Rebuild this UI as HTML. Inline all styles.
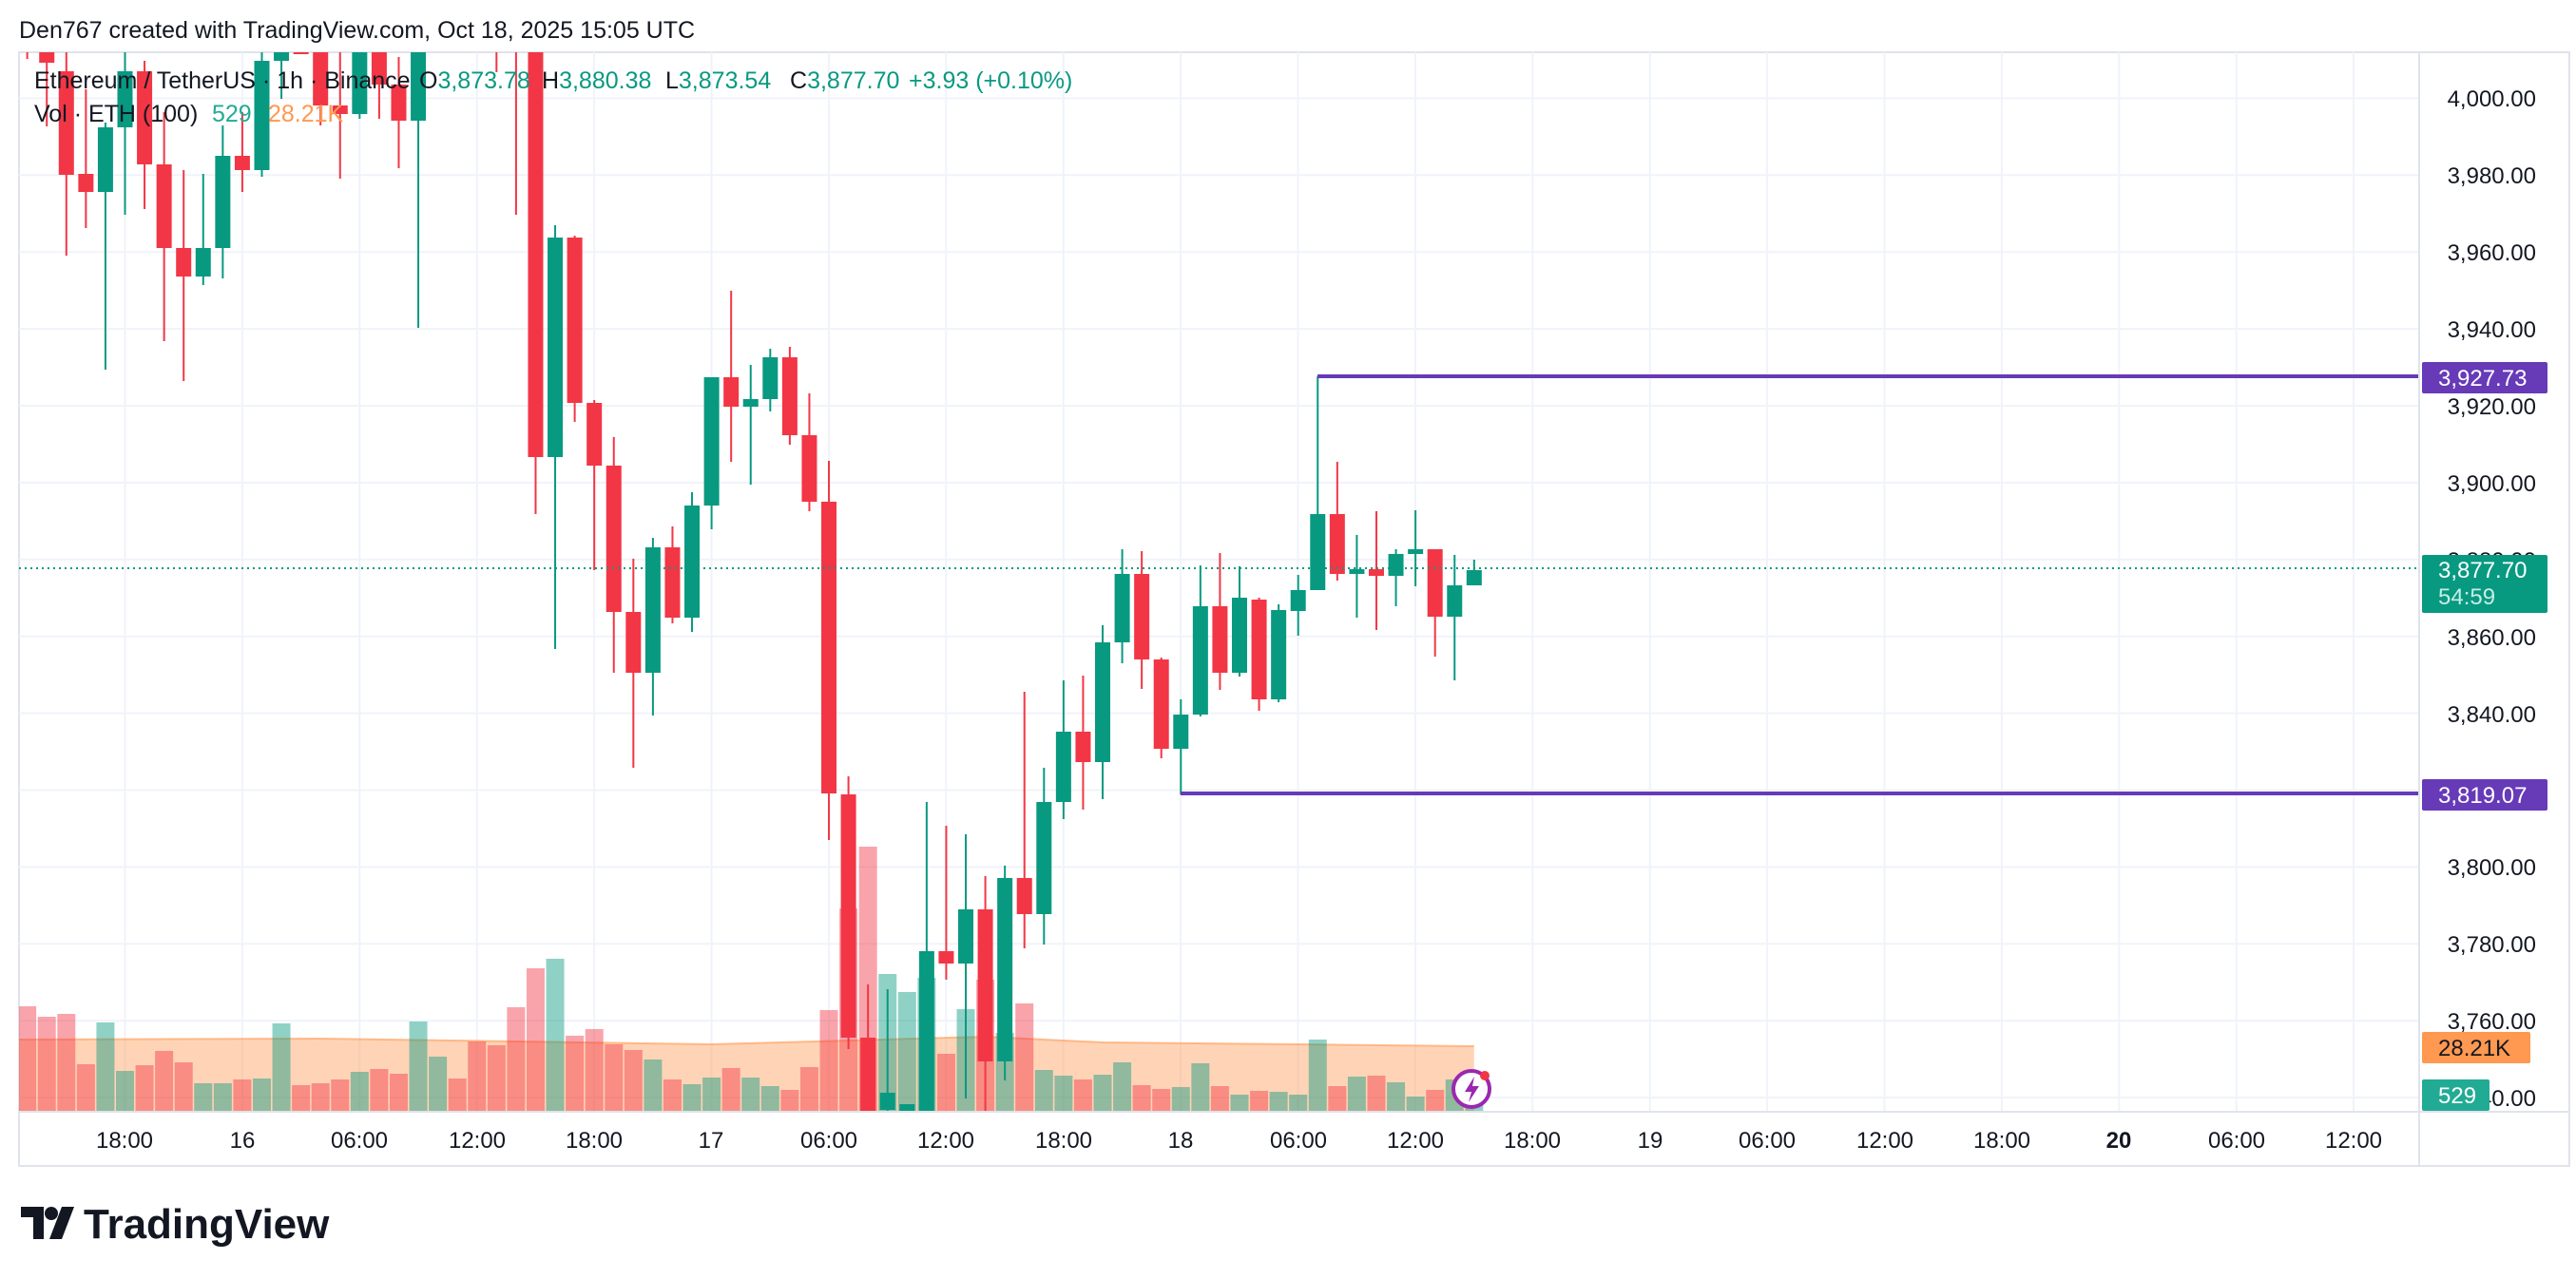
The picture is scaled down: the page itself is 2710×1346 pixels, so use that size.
<!DOCTYPE html>
<html><head><meta charset="utf-8"><style>
html,body{margin:0;padding:0;background:#fff;width:2710px;height:1346px;overflow:hidden}
svg{display:block;font-family:"Liberation Sans",sans-serif}
</style></head><body>
<svg id="s" width="2710" height="1346" viewBox="0 0 2710 1346" xmlns="http://www.w3.org/2000/svg">
<defs><clipPath id="c"><rect x="20" y="55" width="2525" height="1115"/></clipPath></defs>
<rect x="20" y="55" width="2683" height="1172" fill="#fff" stroke="#e0e3eb" stroke-width="2"/>
<g id="grid" stroke="#f0f3fa" stroke-width="2"></g>
<g id="vol" clip-path="url(#c)"></g>
<g id="cdl" clip-path="url(#c)"></g>
<line x1="20" y1="598" x2="2545" y2="598" stroke="#089981" stroke-width="2" stroke-dasharray="2,4"/>
<polyline points="1386,396 2545,396" stroke="#673ab7" stroke-width="4" fill="none"/>
<polyline points="1242,835 2545,835" stroke="#673ab7" stroke-width="4" fill="none"/>
<line x1="2545" y1="55" x2="2545" y2="1227" stroke="#e0e3eb" stroke-width="2"/>
<line x1="20" y1="1170" x2="2703" y2="1170" stroke="#e0e3eb" stroke-width="2"/>
<text x="20" y="40" font-size="25" fill="#131722">Den767 created with TradingView.com, Oct 18, 2025 15:05 UTC</text>
<g font-size="25">
<text x="36" y="93" fill="#131722">Ethereum / TetherUS · 1h · Binance</text>
<text x="441" y="93" fill="#131722">O<tspan fill="#089981">3,873.78</tspan></text>
<text x="570" y="93" fill="#131722">H<tspan fill="#089981">3,880.38</tspan></text>
<text x="700" y="93" fill="#131722">L<tspan fill="#089981">3,873.54</tspan></text>
<text x="831" y="93" fill="#131722">C<tspan fill="#089981">3,877.70</tspan></text>
<text x="956" y="93" fill="#089981">+3.93 (+0.10%)</text>
<text x="36" y="128" fill="#131722">Vol · ETH (100)</text>
<text x="223" y="128" fill="#22ab94">529</text>
<text x="282" y="128" fill="#ff9850">28.21K</text>
</g>
<g font-size="24" fill="#131722" text-anchor="end">
<text x="2668" y="112">4,000.00</text><text x="2668" y="193">3,980.00</text><text x="2668" y="274">3,960.00</text>
<text x="2668" y="355">3,940.00</text><text x="2668" y="436">3,920.00</text><text x="2668" y="517">3,900.00</text>
<text x="2668" y="598">3,880.00</text><text x="2668" y="679">3,860.00</text><text x="2668" y="760">3,840.00</text>
<text x="2668" y="921">3,800.00</text><text x="2668" y="1002">3,780.00</text><text x="2668" y="1083">3,760.00</text><text x="2668" y="1164">3,740.00</text>
</g>
<g font-size="24" fill="#fff">
<rect x="2548" y="381" width="132" height="33" rx="2" fill="#673ab7"/><text x="2565" y="406">3,927.73</text>
<rect x="2548" y="584" width="132" height="61" rx="2" fill="#089981"/><text x="2565" y="608">3,877.70</text><text x="2565" y="636" fill="#c8ece6">54:59</text>
<rect x="2548" y="820" width="132" height="33" rx="2" fill="#673ab7"/><text x="2565" y="845">3,819.07</text>
<rect x="2548" y="1086" width="114" height="33" rx="2" fill="#ff9850"/><text x="2565" y="1111" fill="#131722">28.21K</text>
<rect x="2548" y="1136" width="71" height="33" rx="2" fill="#22ab94"/><text x="2565" y="1161">529</text>
</g>
<g font-size="24" fill="#131722" text-anchor="middle" id="tl">
<text x="131" y="1208">18:00</text><text x="255" y="1208">16</text><text x="378" y="1208">06:00</text><text x="502" y="1208">12:00</text><text x="625" y="1208">18:00</text><text x="748" y="1208">17</text><text x="872" y="1208">06:00</text><text x="995" y="1208">12:00</text><text x="1119" y="1208">18:00</text><text x="1242" y="1208">18</text><text x="1366" y="1208">06:00</text><text x="1489" y="1208">12:00</text><text x="1612" y="1208">18:00</text><text x="1736" y="1208">19</text><text x="1859" y="1208">06:00</text><text x="1983" y="1208">12:00</text><text x="2106" y="1208">18:00</text><text x="2229" y="1208" font-weight="bold">20</text><text x="2353" y="1208">06:00</text><text x="2476" y="1208">12:00</text>
</g>
<circle cx="1548" cy="1146" r="19" fill="#fff" stroke="#9c27b0" stroke-width="4"/>
<path d="M1551 1133 L1541 1149 L1548 1149 L1545 1160 L1556 1143 L1549 1143 Z" fill="#9c27b0"/>
<circle cx="1562" cy="1132" r="5" fill="#f23645"/>
<g transform="translate(22,1266)">
<path d="M0 4 H24 V38 H13 V15 H0 Z" fill="#131722"/><circle cx="32" cy="11" r="7" fill="#131722"/><path d="M43 4 H56 L43 38 H30 Z" fill="#131722"/>
<text x="66" y="37" font-size="44" font-weight="bold" fill="#131722">TradingView</text>
</g>
</svg>
<script>
var NS="http://www.w3.org/2000/svg";
function el(p,t,a){var e=document.createElementNS(NS,t);for(var k in a)e.setAttribute(k,a[k]);p.appendChild(e);return e;}
var g=document.getElementById('grid');
for(var p=4000;p>=3740;p-=20){var y=427+(3920-p)*4.045;el(g,'line',{x1:20,y1:y,x2:2545,y2:y});}
for(var k=0;k<20;k++){var x=131.5+k*123.4;el(g,'line',{x1:x,y1:55,x2:x,y2:1170});}
var C=[[-5,0,30,50,30,62],[-4,0,40,66,40,133],[-3,0,75,184,55,269],[-2,0,183,202,94,240],[-1,1,134,202,129,389],[0,1,75,134,50,226],[1,0,75,173,64,220],[2,0,173,261,118,359],[3,0,261,291,179,401],[4,1,261,291,183,300],[5,1,164,261,132,293],[6,0,164,179,118,202],[7,1,64,179,50,186],[8,1,40,64,40,104],[9,0,40,57,40,56],[10,0,40,111,40,132],[11,0,111,120,55,188],[12,1,40,120,40,125],[13,0,40,89,40,125],[14,0,89,127,60,177],[15,1,40,127,40,345],[16,1,10,30,5,40],[17,0,10,30,5,40],[18,0,10,30,5,40],[19,0,20,45,10,76],[20,0,20,50,10,226],[21,0,40,481,40,541],[22,1,250,481,237,683],[23,0,250,424,248,444],[24,0,424,490,421,600],[25,0,490,644,460,708],[26,0,644,708,588,808],[27,1,576,708,566,753],[28,0,576,650,554,656],[29,1,532,650,518,665],[30,1,397,532,397,557],[31,0,397,428,306,486],[32,1,420,428,384,510],[33,1,376,420,367,433],[34,0,376,458,365,468],[35,0,458,528,414,538],[36,0,528,835,485,884],[37,0,836,1092,817,1104],[38,0,1092,1169,1036,1175],[39,1,1150,1168,1041,1175],[40,1,1162,1169,1162,1175],[41,1,1001,1175,844,1175],[42,0,1001,1014,869,1031],[43,1,957,1014,878,1156],[44,0,957,1117,922,1175],[45,1,924,1117,911,1137],[46,0,924,962,728,998],[47,1,844,962,808,994],[48,1,770,844,716,862],[49,0,770,802,711,852],[50,1,676,802,658,841],[51,1,604,676,578,698],[52,0,604,694,580,725],[53,0,694,788,692,798],[54,1,752,788,736,836],[55,1,638,752,595,754],[56,0,638,708,582,726],[57,1,629,708,596,712],[58,0,631,736,629,748],[59,1,642,736,636,739],[60,1,621,643,605,669],[61,1,541,621,396,621],[62,0,541,604,486,611],[63,1,599,604,563,650],[64,0,599,606,538,663],[65,1,583,606,578,638],[66,1,578,583,537,617],[67,0,578,649,578,691],[68,1,616,649,584,716],[69,1,600,616,589,616]];
var V={"-5":1059,"-4":1070,"-3":1067,"-2":1120,"-1":1076,"0":1127,"1":1121,"2":1106,"3":1118,"4":1140,"5":1140,"6":1136,"7":1135,"8":1077,"9":1142,"10":1140,"11":1136,"12":1128,"13":1125,"14":1130,"15":1075,"16":1112,"17":1135,"18":1096,"19":1100,"20":1060,"21":1019,"22":1009,"23":1090,"24":1083,"25":1099,"26":1105,"27":1115,"28":1136,"29":1141,"30":1134,"31":1124,"32":1134,"33":1143,"34":1147,"35":1123,"36":1063,"37":956,"38":891,"39":1025,"40":1044,"41":1029,"42":1109,"43":1062,"44":1031,"45":1087,"46":1056,"47":1126,"48":1132,"49":1136,"50":1131,"51":1118,"52":1142,"53":1146,"54":1144,"55":1119,"56":1143,"57":1152,"58":1148,"59":1149,"60":1152,"61":1094,"62":1143,"63":1133,"64":1132,"65":1139,"66":1154,"67":1147,"68":1136,"69":1156};
var vg=document.getElementById('vol'),cg=document.getElementById('cdl');
function X(h){return 131.5+h*20.57;}
var pts="M"+X(-5.5)+",1170 ";var ma=[[-5.5,1094],[10,1093],[20,1096],[30,1099],[44,1091],[50,1097],[60,1099],[69,1101]];
ma.forEach(function(q){pts+="L"+X(q[0])+","+q[1]+" ";});pts+="L"+X(69)+",1170 Z";
el(vg,'path',{d:pts,fill:"rgba(255,152,80,0.42)"});
var line="M";ma.forEach(function(q,i){line+=(i?" L":"")+X(q[0])+","+q[1];});
el(vg,'path',{d:line,fill:"none",stroke:"rgba(255,152,80,0.6)","stroke-width":2});
C.forEach(function(c){var h=c[0],x=X(h),col=c[1]?"#089981":"#f23645";
 var vy=V[h];el(vg,'rect',{x:x-9.5,y:vy,width:19,height:1170-vy,fill:c[1]?"rgba(8,153,129,0.45)":"rgba(242,54,69,0.45)"});
 el(cg,'rect',{x:x-1,y:c[4],width:2,height:c[5]-c[4],fill:col});
 el(cg,'rect',{x:x-8,y:c[2],width:16,height:Math.max(2,c[3]-c[2]),fill:col});
});
</script>
</body></html>
